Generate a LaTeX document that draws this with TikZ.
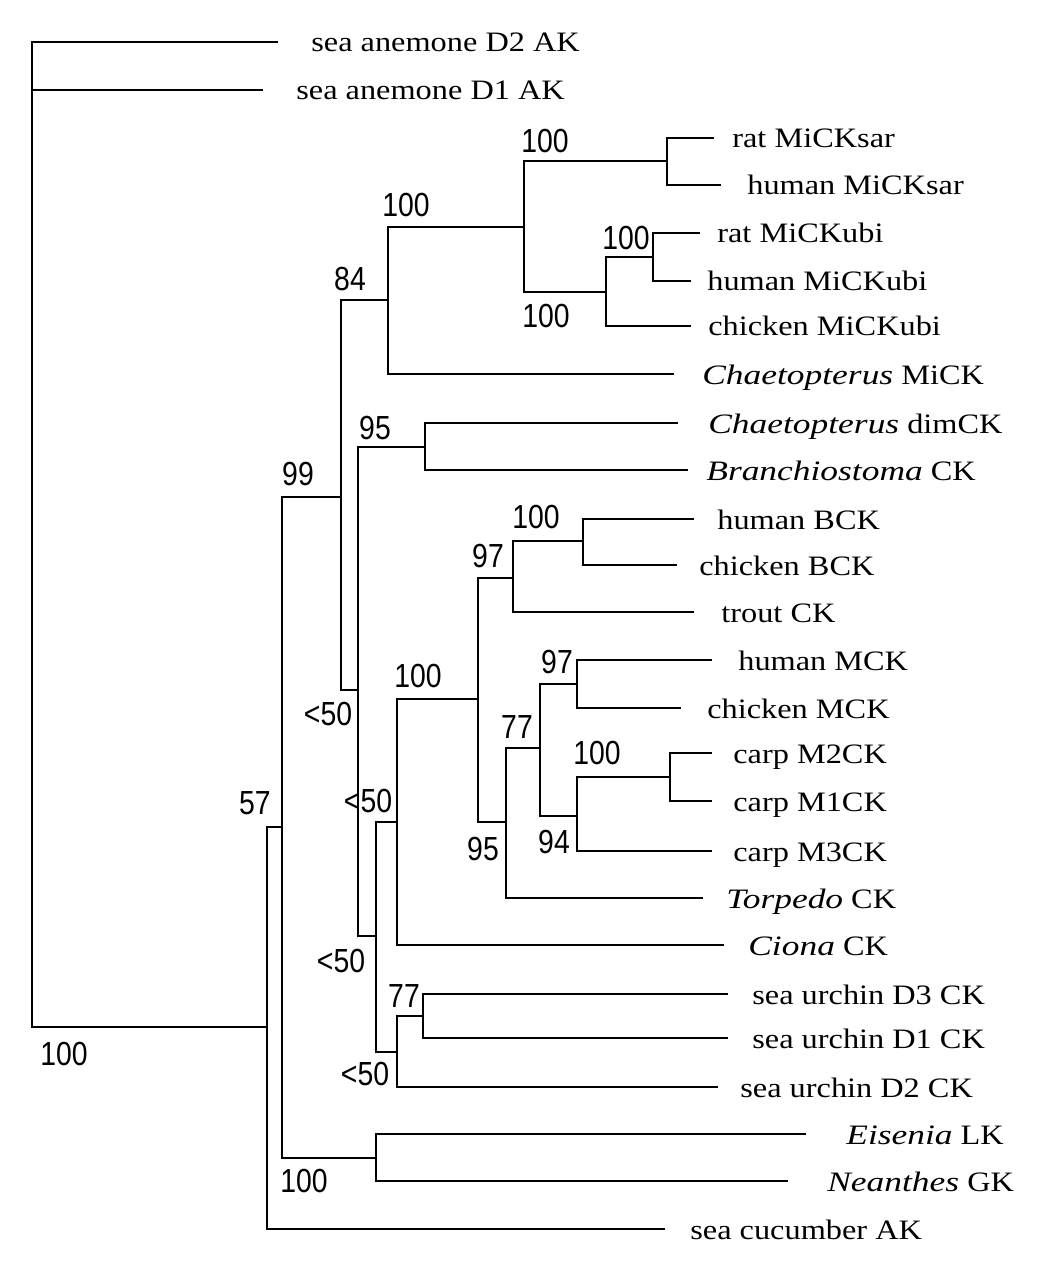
\documentclass[tikz,border=0pt]{standalone}
\usepackage{fontspec}
\setmainfont{Liberation Serif}[FakeStretch=1.15, ItalicFeatures={FakeStretch=1.26}]
\newfontfamily\bootfont{Liberation Sans}[FakeStretch=0.85]
\begin{document}
\begin{tikzpicture}[x=0.02cm, y=-0.02cm,
  branch/.style={line width=1.1pt, line cap=rect},
  heavy/.style={line width=1.6pt, line cap=rect},
  taxon/.style={anchor=base west, inner sep=0pt, font=\fontsize{16}{19}\selectfont},
  boot/.style={inner sep=0pt, font=\bootfont\fontsize{19}{22}\selectfont},]
  \useasboundingbox (0,0) rectangle (1062,1287);
  % internal nodes
  \coordinate (R) at (32,1027);
  \coordinate (A) at (267,1027);
  \coordinate (B) at (282,827);
  \coordinate (E) at (376,1158);
  \coordinate (C) at (341,497);
  \coordinate (D) at (388,300);
  \coordinate (G) at (524,227);
  \coordinate (H) at (667,161);
  \coordinate (I) at (606,292);
  \coordinate (J) at (653,257);
  \coordinate (F) at (358,690);
  \coordinate (K) at (425,447);
  \coordinate (L) at (376,936);
  \coordinate (M) at (397,822);
  \coordinate (O) at (478,699);
  \coordinate (P) at (513,578);
  \coordinate (S) at (583,541);
  \coordinate (Q) at (506,822);
  \coordinate (T) at (540,748);
  \coordinate (U) at (577,684);
  \coordinate (V) at (577,816);
  \coordinate (W) at (670,777);
  \coordinate (N) at (397,1052);
  \coordinate (X) at (423,1016);
  % leaf ends
  \coordinate (lAnemD2) at (277,42);
  \coordinate (lAnemD1) at (262,90);
  \coordinate (lRatSar) at (713,138);
  \coordinate (lHumSar) at (720,185);
  \coordinate (lRatUbi) at (699,233);
  \coordinate (lHumUbi) at (690,281);
  \coordinate (lChiUbi) at (690,326);
  \coordinate (lChaMi) at (673,374);
  \coordinate (lChaDim) at (677,423);
  \coordinate (lBranch) at (687,470);
  \coordinate (lHumB) at (693,519);
  \coordinate (lChiB) at (676,565);
  \coordinate (lTrout) at (693,612);
  \coordinate (lHumM) at (711,660);
  \coordinate (lChiM) at (680,708);
  \coordinate (lCarpM2) at (711,753);
  \coordinate (lCarpM1) at (711,801);
  \coordinate (lCarpM3) at (711,851);
  \coordinate (lTorp) at (702,898);
  \coordinate (lCiona) at (723,945);
  \coordinate (lUrchD3) at (727,994);
  \coordinate (lUrchD1) at (727,1038);
  \coordinate (lUrchD2) at (717,1087);
  \coordinate (lEisen) at (805,1134);
  \coordinate (lNean) at (787,1181);
  \coordinate (lCucum) at (664,1229);
  % branches
  \draw[branch] (R) |- (lAnemD2);
  \draw[branch] (R) |- (lAnemD1);
  \draw[branch] (R) |- (A);
  \draw[branch] (A) |- (B);
  \draw[branch] (A) |- (lCucum);
  \draw[heavy] (B) |- (C);
  \draw[heavy] (B) |- (E);
  \draw[branch] (E) |- (lEisen);
  \draw[branch] (E) |- (lNean);
  \draw[branch] (C) |- (D);
  \draw[branch] (C) |- (F);
  \draw[heavy] (D) |- (G);
  \draw[branch] (D) |- (lChaMi);
  \draw[heavy] (G) |- (H);
  \draw[heavy] (G) |- (I);
  \draw[branch] (H) |- (lRatSar);
  \draw[branch] (H) |- (lHumSar);
  \draw[branch] (I) |- (J);
  \draw[branch] (I) |- (lChiUbi);
  \draw[branch] (J) |- (lRatUbi);
  \draw[branch] (J) |- (lHumUbi);
  \draw[heavy] (F) |- (K);
  \draw[branch] (F) |- (L);
  \draw[branch] (K) |- (lChaDim);
  \draw[branch] (K) |- (lBranch);
  \draw[heavy] (L) |- (M);
  \draw[branch] (L) |- (N);
  \draw[heavy] (M) |- (O);
  \draw[branch] (M) |- (lCiona);
  \draw[branch] (O) |- (P);
  \draw[heavy] (O) |- (Q);
  \draw[heavy] (P) |- (S);
  \draw[branch] (P) |- (lTrout);
  \draw[branch] (S) |- (lHumB);
  \draw[branch] (S) |- (lChiB);
  \draw[branch] (Q) |- (T);
  \draw[heavy] (Q) |- (lTorp);
  \draw[heavy] (T) |- (U);
  \draw[heavy] (T) |- (V);
  \draw[branch] (U) |- (lHumM);
  \draw[branch] (U) |- (lChiM);
  \draw[branch] (V) |- (W);
  \draw[branch] (V) |- (lCarpM3);
  \draw[branch] (W) |- (lCarpM2);
  \draw[branch] (W) |- (lCarpM1);
  \draw[heavy] (N) |- (X);
  \draw[branch] (N) |- (lUrchD2);
  \draw[branch] (X) |- (lUrchD3);
  \draw[branch] (X) |- (lUrchD1);
  % taxa
  \node[taxon] (tAnemD2) at (311,52) {sea anemone D2 AK};
  \node[taxon] (tAnemD1) at (296,100) {sea anemone D1 AK};
  \node[taxon] (tRatSar) at (732,148) {rat MiCKsar};
  \node[taxon] (tHumSar) at (747,195) {human MiCKsar};
  \node[taxon] (tRatUbi) at (717,243) {rat MiCKubi};
  \node[taxon] (tHumUbi) at (707,291) {human MiCKubi};
  \node[taxon] (tChiUbi) at (708,336) {chicken MiCKubi};
  \node[taxon] (tChaMi) at (702,384) {\textit{Chaetopterus} MiCK};
  \node[taxon] (tChaDim) at (708,433) {\textit{Chaetopterus} dimCK};
  \node[taxon] (tBranch) at (706,480) {\textit{Branchiostoma} CK};
  \node[taxon] (tHumB) at (717,529) {human BCK};
  \node[taxon] (tChiB) at (699,575) {chicken BCK};
  \node[taxon] (tTrout) at (721,622) {trout CK};
  \node[taxon] (tHumM) at (738,670) {human MCK};
  \node[taxon] (tChiM) at (707,718) {chicken MCK};
  \node[taxon] (tCarpM2) at (733,763) {carp M2CK};
  \node[taxon] (tCarpM1) at (733,811) {carp M1CK};
  \node[taxon] (tCarpM3) at (733,861) {carp M3CK};
  \node[taxon] (tTorp) at (726,908) {\textit{Torpedo} CK};
  \node[taxon] (tCiona) at (748,955) {\textit{Ciona} CK};
  \node[taxon] (tUrchD3) at (752,1004) {sea urchin D3 CK};
  \node[taxon] (tUrchD1) at (752,1048) {sea urchin D1 CK};
  \node[taxon] (tUrchD2) at (740,1097) {sea urchin D2 CK};
  \node[taxon] (tEisen) at (846,1144) {\textit{Eisenia} LK};
  \node[taxon] (tNean) at (827,1191) {\textit{Neanthes} GK};
  \node[taxon] (tCucum) at (690,1239) {sea cucumber AK};
  % bootstrap values
  \node[boot] (bG) at (406,205) {100};
  \node[boot] (bH) at (545,141) {100};
  \node[boot] (bI) at (546,316) {100};
  \node[boot] (bJ) at (626,238) {100};
  \node[boot] (bD) at (350,279) {84};
  \node[boot] (bK) at (375,428) {95};
  \node[boot] (bC) at (298,474) {99};
  \node[boot] (bS) at (536,517) {100};
  \node[boot] (bP) at (488,556) {97};
  \node[boot] (bO) at (418,676) {100};
  \node[boot] (bF) at (328,714) {<50};
  \node[boot] (bU) at (557,662) {97};
  \node[boot] (bT) at (517,727) {77};
  \node[boot] (bW) at (597,753) {100};
  \node[boot] (bM) at (368,801) {<50};
  \node[boot] (bB) at (255,803) {57};
  \node[boot] (bV) at (554,842) {94};
  \node[boot] (bQ) at (483,849) {95};
  \node[boot] (bL) at (341,961) {<50};
  \node[boot] (bX) at (404,996) {77};
  \node[boot] (bN) at (365,1074) {<50};
  \node[boot] (bA) at (64,1054) {100};
  \node[boot] (bE) at (304,1181) {100};
\end{tikzpicture}
\end{document}
